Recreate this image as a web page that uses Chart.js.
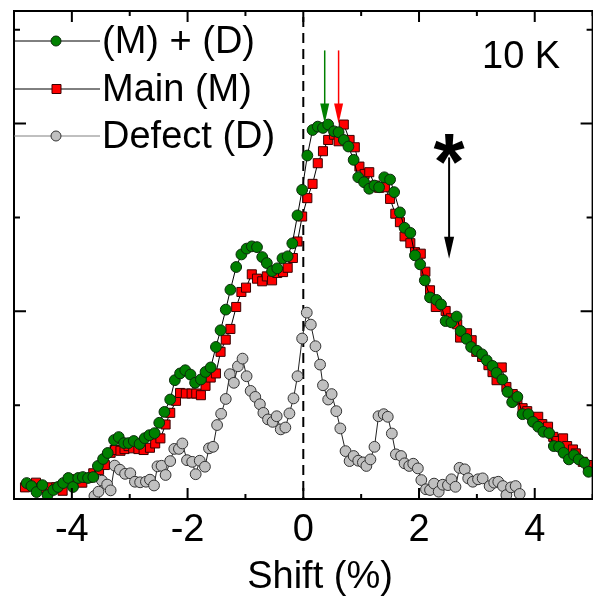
<!DOCTYPE html>
<html>
<head>
<meta charset="utf-8">
<script src="https://cdn.jsdelivr.net/npm/chart.js@4.4.0/dist/chart.umd.min.js"></script>
<style>
html, body { margin: 0; padding: 0; overflow: hidden; background: #fff; }
canvas { display: block; }
</style>
</head>
<body>
<canvas id="chart-area" width="600" height="600"></canvas>
<script>
// (M) + (D)
var sumX = [-4.78, -4.70, -4.61, -4.51, -4.42, -4.32, -4.24, -4.15, -4.06, -3.98, -3.89, -3.81, -3.72, -3.63, -3.55, -3.46, -3.38, -3.27, -3.19, -3.10,
  -3.02, -2.93, -2.83, -2.74, -2.66, -2.57, -2.49, -2.40, -2.30, -2.22, -2.13, -2.04, -1.95, -1.87, -1.77, -1.69, -1.60, -1.51, -1.43, -1.34,
  -1.26, -1.16, -1.07, -0.98, -0.89, -0.80, -0.71, -0.63, -0.54, -0.45, -0.36, -0.27, -0.19, -0.10, -0.02, 0.07, 0.16, 0.25, 0.34, 0.43,
  0.53, 0.61, 0.70, 0.78, 0.87, 0.95, 1.05, 1.14, 1.23, 1.31, 1.40, 1.50, 1.57, 1.67, 1.75, 1.85, 1.93, 2.02, 2.10, 2.19,
  2.30, 2.38, 2.46, 2.56, 2.65, 2.72, 2.82, 2.90, 3.00, 3.09, 3.17, 3.27, 3.34, 3.44, 3.53, 3.61, 3.70, 3.79, 3.89, 3.97,
  4.06, 4.15, 4.25, 4.33, 4.42, 4.50, 4.59, 4.68, 4.76, 4.86, 4.93];
var sumY = [0.085, 0.069, 0.037, 0.074, 0.021, 0.048, 0.064, 0.085, 0.112, 0.064, 0.112, 0.117, 0.112, 0.117, 0.176, 0.213, 0.245, 0.314, 0.330, 0.298,
  0.298, 0.309, 0.293, 0.324, 0.340, 0.351, 0.406, 0.464, 0.530, 0.633, 0.669, 0.686, 0.663, 0.619, 0.637, 0.677, 0.701, 0.810, 0.899, 1.009,
  1.115, 1.236, 1.303, 1.334, 1.346, 1.342, 1.289, 1.257, 1.214, 1.229, 1.282, 1.293, 1.362, 1.511, 1.647, 1.830, 1.966, 1.984, 1.977, 1.995,
  1.959, 1.954, 1.913, 1.878, 1.807, 1.714, 1.688, 1.653, 1.670, 1.661, 1.714, 1.702, 1.635, 1.527, 1.445, 1.418, 1.298, 1.250, 1.165, 1.074,
  1.061, 1.037, 0.948, 0.941, 0.972, 0.895, 0.853, 0.810, 0.790, 0.771, 0.739, 0.709, 0.672, 0.637, 0.571, 0.516, 0.544, 0.452, 0.452, 0.411,
  0.385, 0.358, 0.351, 0.282, 0.278, 0.246, 0.211, 0.234, 0.211, 0.193, 0.145];

// Main (M)
var mainX = [-4.81, -4.62, -4.53, -4.37, -4.27, -4.16, -4.04, -3.93, -3.82, -3.72, -3.63, -3.53, -3.43, -3.33, -3.26, -3.16, -3.09, -3.02, -2.94, -2.85,
  -2.76, -2.65, -2.56, -2.47, -2.38, -2.30, -2.20, -2.13, -2.03, -1.93, -1.85, -1.77, -1.69, -1.60, -1.51, -1.43, -1.34, -1.26, -1.16, -1.07,
  -0.99, -0.89, -0.80, -0.71, -0.63, -0.54, -0.45, -0.35, -0.27, -0.18, -0.10, -0.02, 0.07, 0.16, 0.25, 0.34, 0.43, 0.53, 0.61, 0.70,
  0.80, 0.89, 0.97, 1.06, 1.14, 1.24, 1.31, 1.41, 1.50, 1.59, 1.67, 1.75, 1.85, 1.93, 2.03, 2.11, 2.19, 2.29, 2.46, 2.55,
  2.66, 2.71, 2.83, 2.91, 2.99, 3.09, 3.20, 3.27, 3.34, 3.43, 3.51, 3.62, 3.70, 3.79, 3.87, 3.96, 4.06, 4.13, 4.23, 4.32,
  4.39, 4.49, 4.56, 4.66, 4.71, 4.83, 4.92];
var mainY = [0.062, 0.087, 0.059, 0.062, 0.062, 0.044, 0.105, 0.101, 0.087, 0.112, 0.137, 0.154, 0.181, 0.246, 0.261, 0.257, 0.266, 0.282, 0.270, 0.266,
  0.261, 0.273, 0.296, 0.323, 0.397, 0.459, 0.523, 0.565, 0.562, 0.562, 0.562, 0.553, 0.603, 0.647, 0.669, 0.784, 0.849, 0.906, 1.023, 1.103,
  1.126, 1.197, 1.174, 1.160, 1.186, 1.165, 1.204, 1.209, 1.232, 1.284, 1.372, 1.505, 1.603, 1.679, 1.789, 1.853, 1.913, 1.941, 1.906, 1.995,
  1.913, 1.874, 1.771, 1.732, 1.741, 1.670, 1.658, 1.661, 1.599, 1.520, 1.475, 1.399, 1.363, 1.315, 1.307, 1.211, 1.112, 1.023, 1.002, 0.963,
  0.931, 0.860, 0.883, 0.846, 0.784, 0.757, 0.713, 0.676, 0.633, 0.701, 0.597, 0.559, 0.527, 0.484, 0.468, 0.431, 0.438, 0.399, 0.385, 0.331,
  0.309, 0.323, 0.282, 0.264, 0.243, 0.198, 0.181];

// Defect (D)
var defX = [-3.61, -3.54, -3.48, -3.39, -3.33, -3.26, -3.17, -3.08, -2.99, -2.91, -2.82, -2.72, -2.65, -2.58, -2.52, -2.45, -2.38, -2.30, -2.23, -2.15,
  -2.09, -2.01, -1.92, -1.86, -1.79, -1.70, -1.63, -1.56, -1.49, -1.42, -1.34, -1.27, -1.20, -1.13, -1.05, -0.98, -0.91, -0.83, -0.75, -0.69,
  -0.61, -0.53, -0.46, -0.39, -0.31, -0.24, -0.17, -0.10, -0.02, 0.06, 0.13, 0.21, 0.29, 0.34, 0.43, 0.49, 0.57, 0.64, 0.73, 0.80,
  0.87, 0.95, 1.03, 1.09, 1.16, 1.23, 1.30, 1.39, 1.46, 1.53, 1.60, 1.69, 1.75, 1.83, 1.90, 1.98, 2.04, 2.12, 2.19, 2.26,
  2.34, 2.41, 2.50, 2.56, 2.63, 2.70, 2.79, 2.85, 2.93, 3.02, 3.10, 3.22, 3.30, 3.37, 3.45, 3.51, 3.59, 3.67, 3.74];
var defY = [0.016, 0.039, 0.098, 0.077, 0.046, 0.178, 0.156, 0.134, 0.137, 0.092, 0.089, 0.092, 0.103, 0.072, 0.174, 0.177, 0.128, 0.202, 0.267, 0.267,
  0.296, 0.207, 0.198, 0.132, 0.204, 0.172, 0.270, 0.278, 0.394, 0.454, 0.533, 0.665, 0.619, 0.707, 0.748, 0.654, 0.576, 0.544, 0.505, 0.459,
  0.424, 0.411, 0.441, 0.371, 0.381, 0.456, 0.536, 0.654, 0.855, 0.993, 0.929, 0.814, 0.716, 0.606, 0.530, 0.559, 0.468, 0.376, 0.255, 0.202,
  0.229, 0.204, 0.195, 0.176, 0.211, 0.278, 0.441, 0.452, 0.438, 0.349, 0.238, 0.229, 0.190, 0.176, 0.188, 0.163, 0.101, 0.052, 0.048, 0.082,
  0.039, 0.076, 0.074, 0.105, 0.065, 0.166, 0.158, 0.110, 0.092, 0.105, 0.110, 0.069, 0.087, 0.092, 0.069, 0.021, 0.062, 0.069, 0.027];

var xTicks = [-4, -2, 0, 2, 4];
var peakSum = 0.37, peakMain = 0.61;   // arrows above the peaks
var starX = 2.52;
var FONT = '"Liberation Sans", Arial, Helvetica, sans-serif';

function pts(xs, ys) {
  return xs.map(function (x, i) { return { x: x, y: ys[i] }; });
}

function arrow(c, x, y1, y2, color, lw, hw, hl) {
  c.strokeStyle = color; c.fillStyle = color; c.lineWidth = lw;
  c.beginPath(); c.moveTo(x, y1); c.lineTo(x, y2 - hl + 1); c.stroke();
  c.beginPath(); c.moveTo(x - hw / 2, y2 - hl); c.lineTo(x + hw / 2, y2 - hl); c.lineTo(x, y2); c.closePath(); c.fill();
}

var extras = {
  id: 'extras',
  beforeDatasetsDraw: function (chart) {
    var c = chart.ctx, a = chart.chartArea, x0 = chart.scales.x.getPixelForValue(0);
    c.save();
    c.strokeStyle = '#000'; c.lineWidth = 2; c.setLineDash([10, 6]);
    c.beginPath(); c.moveTo(x0, a.top + 6); c.lineTo(x0, a.bottom); c.stroke();
    c.restore();
  },
  afterDraw: function (chart) {
    var c = chart.ctx, a = chart.chartArea, xs = chart.scales.x, ys = chart.scales.y;
    c.save();
    // frame
    c.strokeStyle = '#000'; c.lineWidth = 2;
    c.strokeRect(a.left, a.top, a.right - a.left, a.bottom - a.top);
    c.beginPath();
    for (var v = -5; v <= 5; v++) {
      var px = xs.getPixelForValue(v), len = (v % 2 === 0) ? 11 : 5;
      c.moveTo(px, a.bottom); c.lineTo(px, a.bottom - len);
      c.moveTo(px, a.top); c.lineTo(px, a.top + len);
    }
    for (var w = 0.5; w <= 2.5; w += 0.5) {
      var py = ys.getPixelForValue(w), l2 = (w % 1 === 0) ? 12 : 6;
      c.moveTo(a.left, py); c.lineTo(a.left + l2, py);
      c.moveTo(a.right, py); c.lineTo(a.right - l2, py);
    }
    c.stroke();

    // axis title
    c.fillStyle = '#000'; c.font = '38px ' + FONT; c.textAlign = 'center'; c.textBaseline = 'alphabetic';
    c.fillText('Shift (%)', 320, 588);

    // legend
    var ds = chart.data.datasets, ly = [41, 89, 136];
    c.textAlign = 'left';
    for (var i = 0; i < ds.length; i++) {
      c.strokeStyle = ds[i].legendLine; c.lineWidth = 1;
      c.beginPath(); c.moveTo(a.left, ly[i]); c.lineTo(100, ly[i]); c.stroke();
      c.fillStyle = ds[i].pointBackgroundColor; c.strokeStyle = ds[i].pointBorderColor;
      c.beginPath();
      if (ds[i].pointStyle === 'rect') c.rect(52, ly[i] - 4.5, 9, 9);
      else c.arc(56, ly[i], 5, 0, Math.PI * 2);
      c.fill(); c.stroke();
      c.fillStyle = '#000';
      c.fillText(ds[i].label, 102, ly[i] + 12);
    }

    c.font = '38px ' + FONT;
    c.fillText('10 K', 482, 68);

    // arrows
    arrow(c, xs.getPixelForValue(peakSum), ys.getPixelForValue(2.39), ys.getPixelForValue(2.0), '#008000', 1.5, 9, 20);
    arrow(c, xs.getPixelForValue(peakMain), ys.getPixelForValue(2.39), ys.getPixelForValue(2.0), '#ff0000', 1.5, 9, 20);
    var sx = xs.getPixelForValue(starX);
    arrow(c, sx, ys.getPixelForValue(1.82), ys.getPixelForValue(1.28), '#000', 2, 10, 22);
    c.fillStyle = '#000'; c.font = 'bold 80px ' + FONT; c.textAlign = 'center';
    c.fillText('*', sx, 189);
    c.restore();
  }
};

var config = {
  type: 'scatter',
  data: {
    datasets: [{
      label: '(M) + (D)',
      data: pts(sumX, sumY),
      showLine: true, borderColor: '#000', borderWidth: 1, legendLine: '#000',
      pointStyle: 'circle', pointRadius: 5.4, pointBorderWidth: 1,
      pointBackgroundColor: '#008000', pointBorderColor: '#0a2a0a'
    }, {
      label: 'Main (M)',
      data: pts(mainX, mainY),
      showLine: true, borderColor: '#000', borderWidth: 1, legendLine: '#000',
      pointStyle: 'rect', pointRadius: 6.4, pointBorderWidth: 1,
      pointBackgroundColor: '#ff0000', pointBorderColor: '#3a0000'
    }, {
      label: 'Defect (D)',
      data: pts(defX, defY),
      showLine: true, borderColor: '#222', borderWidth: 1, legendLine: '#808080',
      pointStyle: 'circle', pointRadius: 5.4, pointBorderWidth: 1,
      pointBackgroundColor: '#c0c0c0', pointBorderColor: '#333'
    }]
  },
  options: {
    responsive: false,
    animation: false,
    events: [],
    layout: { padding: { left: 14, right: 3, top: 11, bottom: 0 } },
    plugins: { legend: { display: false }, tooltip: { enabled: false } },
    scales: {
      x: {
        type: 'linear', min: -5, max: 5,
        afterBuildTicks: function (s) { s.ticks = xTicks.map(function (v) { return { value: v }; }); },
        afterFit: function (s) { s.height = 101; },
        grid: { display: false, drawTicks: false },
        border: { display: false },
        ticks: { color: '#000', padding: 9, font: { size: 38, family: FONT } }
      },
      y: {
        display: false, min: 0, max: 2.6
      }
    }
  },
  plugins: [extras]
};

window.onload = function () {
  var ctx = document.getElementById('chart-area').getContext('2d');
  window.myChart = new Chart(ctx, config);
};
</script>
</body>
</html>
